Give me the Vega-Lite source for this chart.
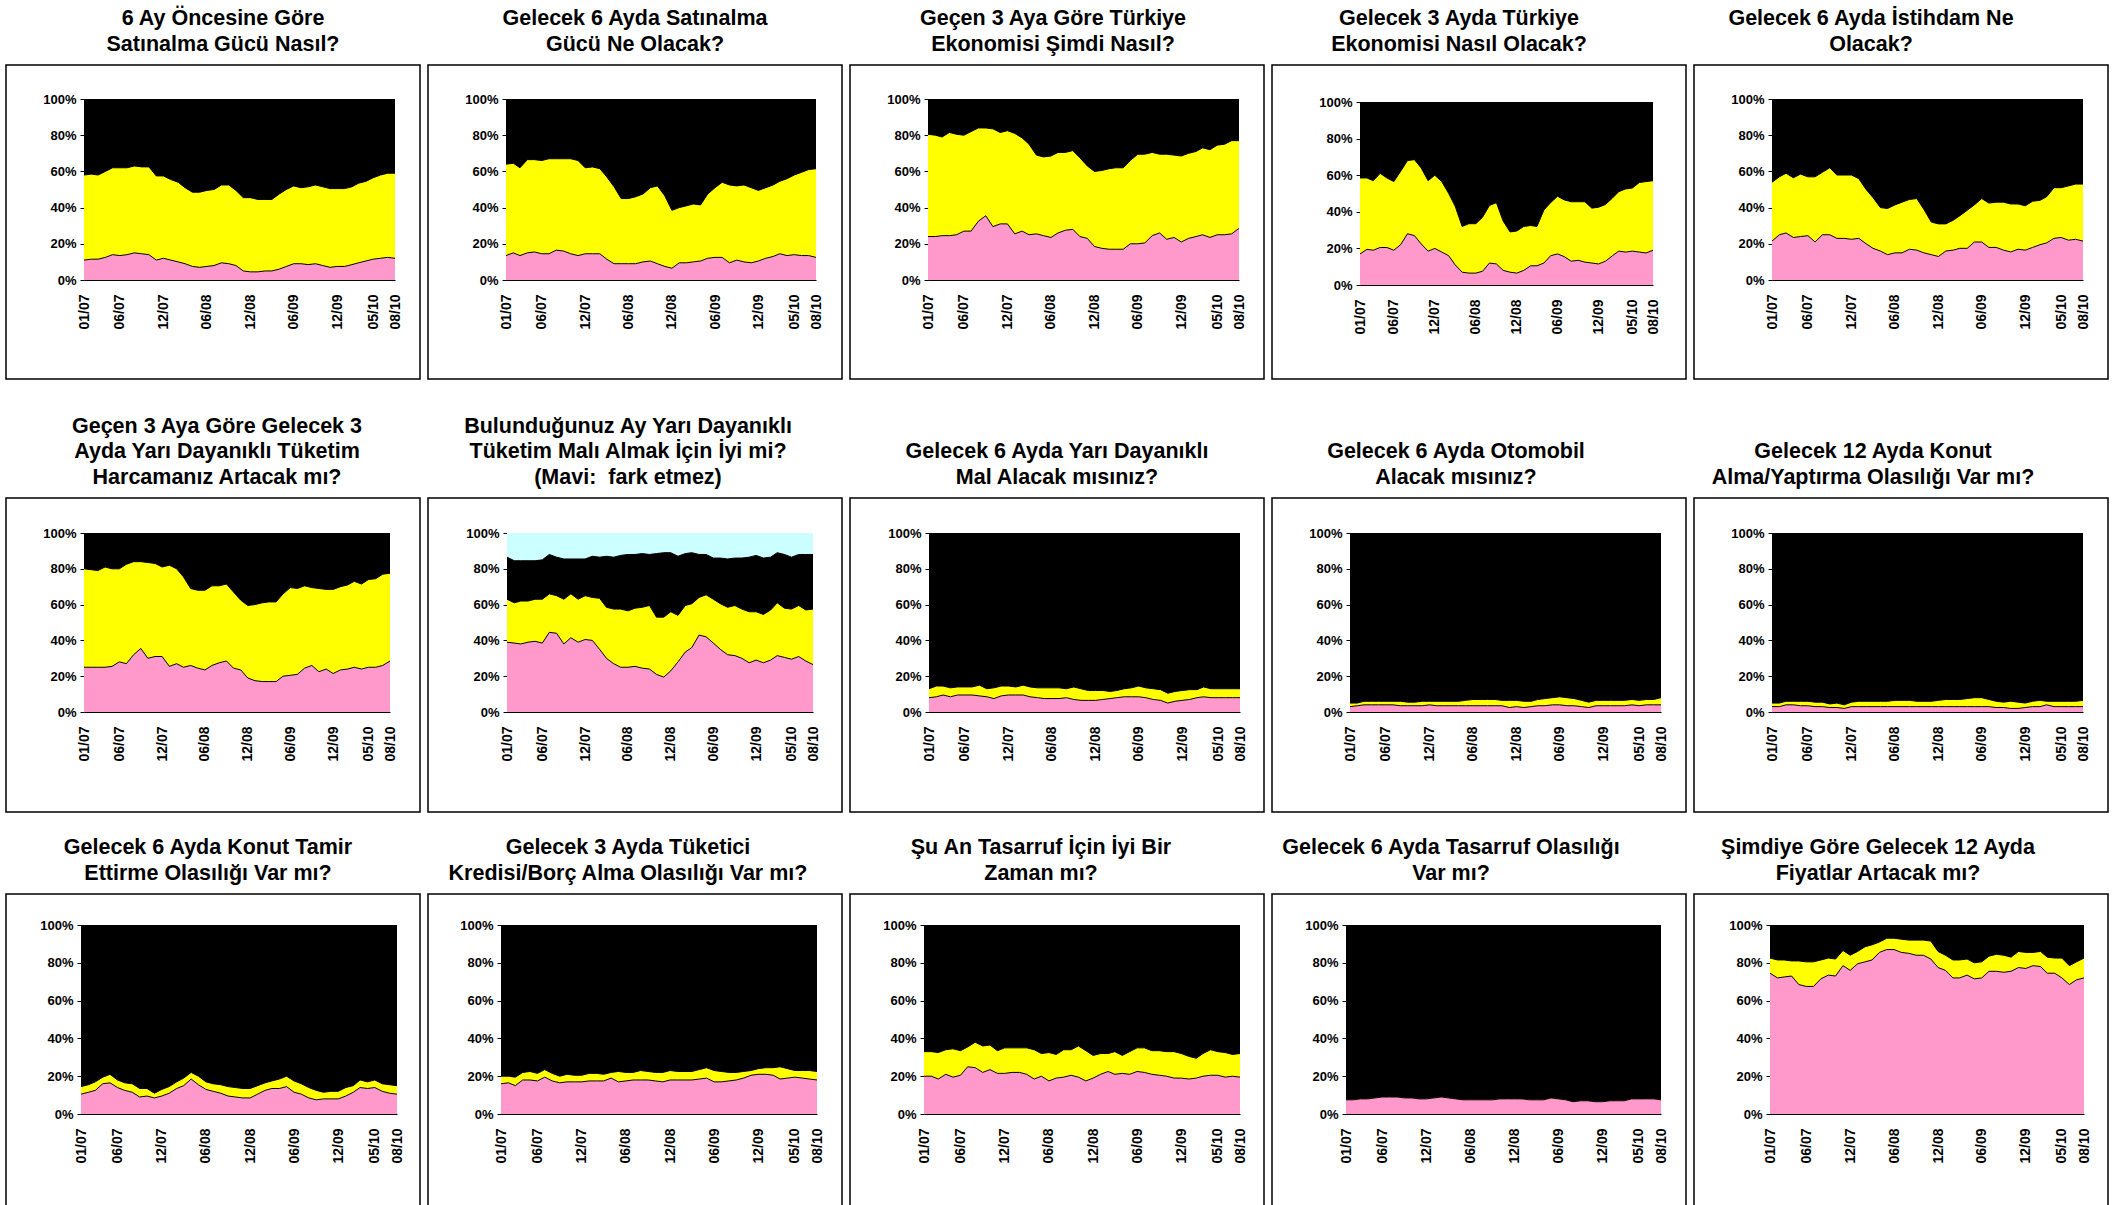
{
"$schema":"https://vega.github.io/schema/vega-lite/v6.json",
"padding":{"left":5,"top":7,"right":0,"bottom":0},
"background":"#ffffff",
"config":{
 "view":{"stroke":"#000000","strokeWidth":1.5},
 "title":{"font":"Liberation Sans","fontSize":21.5,"fontWeight":"bold","color":"#000000","lineHeight":25.5,"offset":10,"anchor":"middle"},
 "axis":{"labelFont":"Liberation Sans","labelFontWeight":"bold","labelColor":"#000000","domainColor":"#000000","domainWidth":1,"tickColor":"#000000","grid":false},
 "axisY":{"labelFontSize":13,"tickSize":4,"labelPadding":4},
 "axisX":{"labelFontSize":14,"labelAngle":-90,"ticks":false,"labelPadding":14,"labelOverlap":false},
 "area":{"opacity":1,"fillOpacity":1}
},
"datasets":{
"d1":[{"t":"2007-01","p":11,"s":58},{"t":"2007-02","p":11.5,"s":58.5},{"t":"2007-03","p":11.5,"s":58},{"t":"2007-04","p":12.5,"s":60},{"t":"2007-05","p":14,"s":62},{"t":"2007-06","p":13.5,"s":62},{"t":"2007-07","p":14,"s":62},{"t":"2007-08","p":15,"s":63},{"t":"2007-09","p":14.5,"s":62.5},{"t":"2007-10","p":14,"s":62.5},{"t":"2007-11","p":11,"s":57.5},{"t":"2007-12","p":12,"s":57.5},{"t":"2008-01","p":11,"s":55.5},{"t":"2008-02","p":10,"s":54},{"t":"2008-03","p":9,"s":51},{"t":"2008-04","p":7.5,"s":48.5},{"t":"2008-05","p":7,"s":48.5},{"t":"2008-06","p":7.5,"s":49.5},{"t":"2008-07","p":8,"s":50},{"t":"2008-08","p":9.5,"s":52.5},{"t":"2008-09","p":9,"s":52.5},{"t":"2008-10","p":8,"s":49.5},{"t":"2008-11","p":5,"s":45.5},{"t":"2008-12","p":4.5,"s":45.5},{"t":"2009-01","p":4.5,"s":44.5},{"t":"2009-02","p":5,"s":44.5},{"t":"2009-03","p":5,"s":44.5},{"t":"2009-04","p":6,"s":47.5},{"t":"2009-05","p":7.5,"s":50},{"t":"2009-06","p":9,"s":52},{"t":"2009-07","p":9,"s":51},{"t":"2009-08","p":8.5,"s":51.5},{"t":"2009-09","p":9,"s":52.5},{"t":"2009-10","p":8,"s":51.5},{"t":"2009-11","p":7,"s":50.5},{"t":"2009-12","p":7.5,"s":50.5},{"t":"2010-01","p":7.5,"s":50.5},{"t":"2010-02","p":8.5,"s":51.5},{"t":"2010-03","p":9.5,"s":53.5},{"t":"2010-04","p":10.5,"s":54.5},{"t":"2010-05","p":11.5,"s":56.5},{"t":"2010-06","p":12,"s":58},{"t":"2010-07","p":12.5,"s":59},{"t":"2010-08","p":12,"s":59}],
"d2":[{"t":"2007-01","p":13.5,"s":64},{"t":"2007-02","p":15,"s":64.5},{"t":"2007-03","p":13.5,"s":62},{"t":"2007-04","p":15,"s":66.5},{"t":"2007-05","p":15.5,"s":66.5},{"t":"2007-06","p":14.5,"s":66},{"t":"2007-07","p":14.5,"s":67},{"t":"2007-08","p":16.5,"s":67},{"t":"2007-09","p":16,"s":67},{"t":"2007-10","p":14.5,"s":67},{"t":"2007-11","p":13.5,"s":66},{"t":"2007-12","p":14.5,"s":62},{"t":"2008-01","p":14.5,"s":62.5},{"t":"2008-02","p":14.5,"s":61.5},{"t":"2008-03","p":11.5,"s":57},{"t":"2008-04","p":9,"s":51.5},{"t":"2008-05","p":9,"s":45},{"t":"2008-06","p":9,"s":45},{"t":"2008-07","p":9,"s":46},{"t":"2008-08","p":10,"s":47.5},{"t":"2008-09","p":10.5,"s":51},{"t":"2008-10","p":9,"s":52},{"t":"2008-11","p":7.5,"s":46.5},{"t":"2008-12","p":6.5,"s":38.5},{"t":"2009-01","p":9.5,"s":40},{"t":"2009-02","p":9.5,"s":41},{"t":"2009-03","p":10,"s":42},{"t":"2009-04","p":10.5,"s":41.5},{"t":"2009-05","p":12,"s":47.5},{"t":"2009-06","p":12.5,"s":51},{"t":"2009-07","p":12.5,"s":54},{"t":"2009-08","p":9.5,"s":52.5},{"t":"2009-09","p":11,"s":52},{"t":"2009-10","p":10,"s":52.5},{"t":"2009-11","p":9.5,"s":51},{"t":"2009-12","p":10.5,"s":49.5},{"t":"2010-01","p":12,"s":51},{"t":"2010-02","p":13,"s":52.5},{"t":"2010-03","p":14.5,"s":54.5},{"t":"2010-04","p":13.5,"s":56},{"t":"2010-05","p":14,"s":58},{"t":"2010-06","p":13.5,"s":59.5},{"t":"2010-07","p":13.5,"s":61},{"t":"2010-08","p":12.5,"s":61.5}],
"d3":[{"t":"2007-01","p":24,"s":80.5},{"t":"2007-02","p":24,"s":80},{"t":"2007-03","p":24.5,"s":79},{"t":"2007-04","p":24.5,"s":81.5},{"t":"2007-05","p":25,"s":80.5},{"t":"2007-06","p":27,"s":80},{"t":"2007-07","p":27,"s":82},{"t":"2007-08","p":32.5,"s":84},{"t":"2007-09","p":35.5,"s":84},{"t":"2007-10","p":29.5,"s":83.5},{"t":"2007-11","p":31,"s":81.5},{"t":"2007-12","p":31,"s":82.5},{"t":"2008-01","p":25.5,"s":81},{"t":"2008-02","p":27,"s":78.5},{"t":"2008-03","p":25,"s":75},{"t":"2008-04","p":25.5,"s":69},{"t":"2008-05","p":24.5,"s":68},{"t":"2008-06","p":23.5,"s":68.5},{"t":"2008-07","p":26,"s":70.5},{"t":"2008-08","p":27.5,"s":70.5},{"t":"2008-09","p":28,"s":71.5},{"t":"2008-10","p":24,"s":67.5},{"t":"2008-11","p":23,"s":63},{"t":"2008-12","p":18.5,"s":60},{"t":"2009-01","p":17.5,"s":60.5},{"t":"2009-02","p":17,"s":61.5},{"t":"2009-03","p":17,"s":62},{"t":"2009-04","p":17,"s":62},{"t":"2009-05","p":20,"s":66},{"t":"2009-06","p":20,"s":69.5},{"t":"2009-07","p":20.5,"s":69.5},{"t":"2009-08","p":24.5,"s":70.5},{"t":"2009-09","p":26,"s":69.5},{"t":"2009-10","p":22.5,"s":69.5},{"t":"2009-11","p":23.5,"s":69},{"t":"2009-12","p":21,"s":68.5},{"t":"2010-01","p":23,"s":70},{"t":"2010-02","p":24,"s":71},{"t":"2010-03","p":25,"s":73},{"t":"2010-04","p":23.5,"s":72},{"t":"2010-05","p":25,"s":74.5},{"t":"2010-06","p":25,"s":75},{"t":"2010-07","p":25.5,"s":77},{"t":"2010-08","p":28.5,"s":77}],
"d4":[{"t":"2007-01","p":17,"s":58.5},{"t":"2007-02","p":19.5,"s":58.5},{"t":"2007-03","p":19,"s":57},{"t":"2007-04","p":20.5,"s":61},{"t":"2007-05","p":20.5,"s":58.5},{"t":"2007-06","p":19,"s":56.5},{"t":"2007-07","p":22,"s":62},{"t":"2007-08","p":28,"s":68},{"t":"2007-09","p":27,"s":68.5},{"t":"2007-10","p":22.5,"s":64},{"t":"2007-11","p":18.5,"s":57},{"t":"2007-12","p":20,"s":60},{"t":"2008-01","p":18,"s":56.5},{"t":"2008-02","p":16,"s":50},{"t":"2008-03","p":11,"s":43},{"t":"2008-04","p":7,"s":32},{"t":"2008-05","p":6.5,"s":33.5},{"t":"2008-06","p":6.5,"s":33.5},{"t":"2008-07","p":7.5,"s":37},{"t":"2008-08","p":12,"s":43.5},{"t":"2008-09","p":11.5,"s":45},{"t":"2008-10","p":8,"s":35},{"t":"2008-11","p":7,"s":29},{"t":"2008-12","p":6.5,"s":29.5},{"t":"2009-01","p":8,"s":32},{"t":"2009-02","p":10.5,"s":32.5},{"t":"2009-03","p":10.5,"s":32},{"t":"2009-04","p":12,"s":41},{"t":"2009-05","p":16,"s":45},{"t":"2009-06","p":17,"s":48.5},{"t":"2009-07","p":15.5,"s":46.5},{"t":"2009-08","p":13,"s":45.5},{"t":"2009-09","p":13.5,"s":45.5},{"t":"2009-10","p":12.5,"s":45.5},{"t":"2009-11","p":12,"s":42},{"t":"2009-12","p":11.5,"s":42.5},{"t":"2010-01","p":13,"s":44},{"t":"2010-02","p":16,"s":47.5},{"t":"2010-03","p":18.5,"s":51},{"t":"2010-04","p":18,"s":52.5},{"t":"2010-05","p":18.5,"s":53},{"t":"2010-06","p":18,"s":56},{"t":"2010-07","p":17.5,"s":56.5},{"t":"2010-08","p":19,"s":57}],
"d5":[{"t":"2007-01","p":21.5,"s":54},{"t":"2007-02","p":25,"s":57},{"t":"2007-03","p":26,"s":59},{"t":"2007-04","p":23.5,"s":56.5},{"t":"2007-05","p":24,"s":58.5},{"t":"2007-06","p":24.5,"s":57},{"t":"2007-07","p":21,"s":57},{"t":"2007-08","p":25,"s":59.5},{"t":"2007-09","p":25,"s":62},{"t":"2007-10","p":23,"s":58},{"t":"2007-11","p":23,"s":58},{"t":"2007-12","p":22.5,"s":58},{"t":"2008-01","p":23,"s":56},{"t":"2008-02","p":20,"s":50},{"t":"2008-03","p":17.5,"s":45.5},{"t":"2008-04","p":16,"s":40},{"t":"2008-05","p":14,"s":39.5},{"t":"2008-06","p":15,"s":41.5},{"t":"2008-07","p":15,"s":43},{"t":"2008-08","p":17,"s":44.5},{"t":"2008-09","p":16.5,"s":45},{"t":"2008-10","p":15,"s":39},{"t":"2008-11","p":14,"s":32},{"t":"2008-12","p":13,"s":31},{"t":"2009-01","p":16,"s":31},{"t":"2009-02","p":16.5,"s":33},{"t":"2009-03","p":17.5,"s":35.5},{"t":"2009-04","p":17.5,"s":38.5},{"t":"2009-05","p":21,"s":41.5},{"t":"2009-06","p":21,"s":45},{"t":"2009-07","p":18,"s":42.5},{"t":"2009-08","p":18,"s":43},{"t":"2009-09","p":16.5,"s":43},{"t":"2009-10","p":15.5,"s":42},{"t":"2009-11","p":17,"s":42},{"t":"2009-12","p":16.5,"s":41},{"t":"2010-01","p":18,"s":43.5},{"t":"2010-02","p":19.5,"s":44},{"t":"2010-03","p":20.5,"s":46},{"t":"2010-04","p":23,"s":51},{"t":"2010-05","p":23.5,"s":51},{"t":"2010-06","p":22,"s":52},{"t":"2010-07","p":22.5,"s":53},{"t":"2010-08","p":21.5,"s":53}],
"d6":[{"t":"2007-01","p":25,"s":80},{"t":"2007-02","p":25,"s":79.5},{"t":"2007-03","p":25,"s":79},{"t":"2007-04","p":25,"s":81},{"t":"2007-05","p":25.5,"s":80},{"t":"2007-06","p":28,"s":80},{"t":"2007-07","p":27,"s":82.5},{"t":"2007-08","p":32,"s":84},{"t":"2007-09","p":35.5,"s":84},{"t":"2007-10","p":30,"s":83.5},{"t":"2007-11","p":31,"s":83},{"t":"2007-12","p":31,"s":81},{"t":"2008-01","p":25.5,"s":82},{"t":"2008-02","p":27,"s":80},{"t":"2008-03","p":25,"s":75.5},{"t":"2008-04","p":26,"s":69},{"t":"2008-05","p":24.5,"s":68},{"t":"2008-06","p":23.5,"s":68},{"t":"2008-07","p":26,"s":70.5},{"t":"2008-08","p":27.5,"s":70.5},{"t":"2008-09","p":28.5,"s":71.5},{"t":"2008-10","p":24.5,"s":67},{"t":"2008-11","p":23.5,"s":62.5},{"t":"2008-12","p":19,"s":59.5},{"t":"2009-01","p":17.5,"s":60},{"t":"2009-02","p":17,"s":61},{"t":"2009-03","p":17,"s":61.5},{"t":"2009-04","p":17,"s":61.5},{"t":"2009-05","p":20,"s":66},{"t":"2009-06","p":20.5,"s":69.5},{"t":"2009-07","p":21,"s":69},{"t":"2009-08","p":24.5,"s":70.5},{"t":"2009-09","p":26,"s":69.5},{"t":"2009-10","p":22.5,"s":69},{"t":"2009-11","p":24,"s":68.5},{"t":"2009-12","p":21.5,"s":68.5},{"t":"2010-01","p":23.5,"s":70},{"t":"2010-02","p":24,"s":71},{"t":"2010-03","p":25,"s":73},{"t":"2010-04","p":24,"s":71.5},{"t":"2010-05","p":25,"s":74},{"t":"2010-06","p":25,"s":74.5},{"t":"2010-07","p":26,"s":77},{"t":"2010-08","p":28.5,"s":77.5}],
"d7":[{"t":"2007-01","p":39,"s":63,"k":86.5},{"t":"2007-02","p":38.5,"s":61,"k":84.5},{"t":"2007-03","p":38,"s":62,"k":84.5},{"t":"2007-04","p":39,"s":62,"k":84.5},{"t":"2007-05","p":39.5,"s":63,"k":84.5},{"t":"2007-06","p":38.5,"s":63,"k":85},{"t":"2007-07","p":44.5,"s":66,"k":88},{"t":"2007-08","p":44,"s":65,"k":86.5},{"t":"2007-09","p":38,"s":63,"k":85.5},{"t":"2007-10","p":41.5,"s":66,"k":85.5},{"t":"2007-11","p":39,"s":63,"k":85.5},{"t":"2007-12","p":40.5,"s":65,"k":85.5},{"t":"2008-01","p":40,"s":64,"k":87},{"t":"2008-02","p":35,"s":63.5,"k":86.5},{"t":"2008-03","p":30,"s":58.5,"k":87},{"t":"2008-04","p":27,"s":57.5,"k":86.5},{"t":"2008-05","p":25,"s":57.5,"k":87.5},{"t":"2008-06","p":25,"s":56.5,"k":88},{"t":"2008-07","p":25.5,"s":58,"k":88},{"t":"2008-08","p":24.5,"s":58.5,"k":88.5},{"t":"2008-09","p":24,"s":59.5,"k":88},{"t":"2008-10","p":21,"s":53,"k":88.5},{"t":"2008-11","p":19.5,"s":53,"k":89},{"t":"2008-12","p":23,"s":56,"k":89},{"t":"2009-01","p":28,"s":54,"k":87},{"t":"2009-02","p":33.5,"s":59.5,"k":88.5},{"t":"2009-03","p":36,"s":60.5,"k":89},{"t":"2009-04","p":43,"s":64,"k":88},{"t":"2009-05","p":42,"s":65.5,"k":88},{"t":"2009-06","p":38.5,"s":63,"k":86},{"t":"2009-07","p":35,"s":60.5,"k":86},{"t":"2009-08","p":32,"s":58.5,"k":85.5},{"t":"2009-09","p":31.5,"s":59.5,"k":86},{"t":"2009-10","p":30,"s":57.5,"k":86},{"t":"2009-11","p":27.5,"s":56,"k":86.5},{"t":"2009-12","p":29,"s":56,"k":87.5},{"t":"2010-01","p":27.5,"s":54.5,"k":86},{"t":"2010-02","p":29,"s":57,"k":86.5},{"t":"2010-03","p":31.5,"s":61,"k":89},{"t":"2010-04","p":30.5,"s":58,"k":88},{"t":"2010-05","p":29.5,"s":57.5,"k":86.5},{"t":"2010-06","p":31,"s":59.5,"k":88},{"t":"2010-07","p":28.5,"s":57,"k":88},{"t":"2010-08","p":26.5,"s":57.5,"k":88}],
"d8":[{"t":"2007-01","p":8,"s":13},{"t":"2007-02","p":8.5,"s":14.5},{"t":"2007-03","p":9.5,"s":14.5},{"t":"2007-04","p":8.5,"s":13.5},{"t":"2007-05","p":9.5,"s":14},{"t":"2007-06","p":9.5,"s":14},{"t":"2007-07","p":9.5,"s":14},{"t":"2007-08","p":9,"s":15},{"t":"2007-09","p":8.5,"s":13},{"t":"2007-10","p":7.5,"s":13.5},{"t":"2007-11","p":9,"s":14.5},{"t":"2007-12","p":9.5,"s":14.5},{"t":"2008-01","p":9.5,"s":14},{"t":"2008-02","p":9.5,"s":15},{"t":"2008-03","p":8.5,"s":14},{"t":"2008-04","p":8,"s":13.5},{"t":"2008-05","p":7.5,"s":13.5},{"t":"2008-06","p":7.5,"s":13.5},{"t":"2008-07","p":7.5,"s":13.5},{"t":"2008-08","p":8,"s":13},{"t":"2008-09","p":7,"s":14},{"t":"2008-10","p":6.5,"s":13},{"t":"2008-11","p":6.5,"s":12},{"t":"2008-12","p":6.5,"s":12},{"t":"2009-01","p":7,"s":12},{"t":"2009-02","p":7.5,"s":11.5},{"t":"2009-03","p":8,"s":12},{"t":"2009-04","p":8.5,"s":13},{"t":"2009-05","p":8.5,"s":13.5},{"t":"2009-06","p":8.5,"s":14.5},{"t":"2009-07","p":8,"s":13.5},{"t":"2009-08","p":7,"s":13},{"t":"2009-09","p":6.5,"s":12.5},{"t":"2009-10","p":5,"s":10.5},{"t":"2009-11","p":6,"s":11.5},{"t":"2009-12","p":6.5,"s":12},{"t":"2010-01","p":7,"s":12.5},{"t":"2010-02","p":8,"s":12.5},{"t":"2010-03","p":8.5,"s":14},{"t":"2010-04","p":8,"s":13},{"t":"2010-05","p":8,"s":13},{"t":"2010-06","p":8,"s":13},{"t":"2010-07","p":8,"s":13},{"t":"2010-08","p":8,"s":13}],
"d9":[{"t":"2007-01","p":3,"s":5},{"t":"2007-02","p":3.5,"s":5},{"t":"2007-03","p":4,"s":6},{"t":"2007-04","p":4,"s":6},{"t":"2007-05","p":4,"s":6},{"t":"2007-06","p":4,"s":6},{"t":"2007-07","p":4,"s":6},{"t":"2007-08","p":3.5,"s":6},{"t":"2007-09","p":3.5,"s":5.5},{"t":"2007-10","p":3.5,"s":5.5},{"t":"2007-11","p":3.5,"s":6},{"t":"2007-12","p":4,"s":6},{"t":"2008-01","p":3.5,"s":6},{"t":"2008-02","p":3.5,"s":6},{"t":"2008-03","p":3.5,"s":6},{"t":"2008-04","p":3.5,"s":6},{"t":"2008-05","p":3.5,"s":6.5},{"t":"2008-06","p":3.5,"s":7},{"t":"2008-07","p":3.5,"s":7},{"t":"2008-08","p":3.5,"s":7},{"t":"2008-09","p":3.5,"s":7},{"t":"2008-10","p":3.5,"s":6.5},{"t":"2008-11","p":2.5,"s":6.5},{"t":"2008-12","p":3,"s":6.5},{"t":"2009-01","p":2.5,"s":6},{"t":"2009-02","p":3,"s":6},{"t":"2009-03","p":3.5,"s":7},{"t":"2009-04","p":3.5,"s":7.5},{"t":"2009-05","p":4,"s":8},{"t":"2009-06","p":4,"s":8.5},{"t":"2009-07","p":3.5,"s":8},{"t":"2009-08","p":3.5,"s":7.5},{"t":"2009-09","p":3,"s":6.5},{"t":"2009-10","p":2.5,"s":5.5},{"t":"2009-11","p":3.5,"s":6.5},{"t":"2009-12","p":3.5,"s":6.5},{"t":"2010-01","p":3.5,"s":6.5},{"t":"2010-02","p":3.5,"s":6.5},{"t":"2010-03","p":3.5,"s":6.5},{"t":"2010-04","p":4,"s":7},{"t":"2010-05","p":3.5,"s":6.5},{"t":"2010-06","p":4,"s":7},{"t":"2010-07","p":4,"s":7},{"t":"2010-08","p":4,"s":8}],
"d10":[{"t":"2007-01","p":3,"s":5},{"t":"2007-02","p":3,"s":5},{"t":"2007-03","p":4,"s":6},{"t":"2007-04","p":4,"s":6},{"t":"2007-05","p":3.5,"s":6},{"t":"2007-06","p":3.5,"s":6},{"t":"2007-07","p":3,"s":5.5},{"t":"2007-08","p":3,"s":5.5},{"t":"2007-09","p":2.5,"s":4.5},{"t":"2007-10","p":2.5,"s":5},{"t":"2007-11","p":2,"s":4},{"t":"2007-12","p":3,"s":5.5},{"t":"2008-01","p":3,"s":6},{"t":"2008-02","p":3,"s":6},{"t":"2008-03","p":3,"s":6},{"t":"2008-04","p":3,"s":6},{"t":"2008-05","p":3,"s":6},{"t":"2008-06","p":3,"s":6.5},{"t":"2008-07","p":3,"s":6.5},{"t":"2008-08","p":3,"s":6.5},{"t":"2008-09","p":3,"s":6},{"t":"2008-10","p":3,"s":6},{"t":"2008-11","p":3,"s":6},{"t":"2008-12","p":3,"s":6.5},{"t":"2009-01","p":3,"s":7},{"t":"2009-02","p":3,"s":7},{"t":"2009-03","p":3,"s":7},{"t":"2009-04","p":3,"s":7.5},{"t":"2009-05","p":3,"s":8},{"t":"2009-06","p":3,"s":8},{"t":"2009-07","p":3,"s":7},{"t":"2009-08","p":2.5,"s":6},{"t":"2009-09","p":2.5,"s":5.5},{"t":"2009-10","p":2,"s":6},{"t":"2009-11","p":2,"s":5.5},{"t":"2009-12","p":2.5,"s":5},{"t":"2010-01","p":3,"s":6},{"t":"2010-02","p":3,"s":6.5},{"t":"2010-03","p":4,"s":6},{"t":"2010-04","p":3,"s":6},{"t":"2010-05","p":3,"s":6},{"t":"2010-06","p":3,"s":6},{"t":"2010-07","p":3,"s":6},{"t":"2010-08","p":3,"s":6.5}],
"d11":[{"t":"2007-01","p":10.5,"s":14.5},{"t":"2007-02","p":11.5,"s":15.5},{"t":"2007-03","p":12.5,"s":17},{"t":"2007-04","p":16,"s":19.5},{"t":"2007-05","p":16.5,"s":21},{"t":"2007-06","p":14,"s":18},{"t":"2007-07","p":12.5,"s":16.5},{"t":"2007-08","p":11.5,"s":16},{"t":"2007-09","p":9,"s":13.5},{"t":"2007-10","p":9.5,"s":13.5},{"t":"2007-11","p":8.5,"s":11},{"t":"2007-12","p":9.5,"s":13},{"t":"2008-01","p":11,"s":14.5},{"t":"2008-02","p":13.5,"s":17},{"t":"2008-03","p":15,"s":19},{"t":"2008-04","p":18.5,"s":22},{"t":"2008-05","p":15.5,"s":20},{"t":"2008-06","p":13,"s":17},{"t":"2008-07","p":12,"s":16},{"t":"2008-08","p":11,"s":15.5},{"t":"2008-09","p":9.5,"s":14.5},{"t":"2008-10","p":9,"s":14},{"t":"2008-11","p":8.5,"s":13.5},{"t":"2008-12","p":8.5,"s":13.5},{"t":"2009-01","p":10.5,"s":15},{"t":"2009-02","p":12.5,"s":16.5},{"t":"2009-03","p":13.5,"s":17.5},{"t":"2009-04","p":13.5,"s":18.5},{"t":"2009-05","p":14.5,"s":20},{"t":"2009-06","p":11.5,"s":17.5},{"t":"2009-07","p":10.5,"s":16},{"t":"2009-08","p":8.5,"s":14},{"t":"2009-09","p":7.5,"s":12.5},{"t":"2009-10","p":8,"s":11.5},{"t":"2009-11","p":8,"s":12},{"t":"2009-12","p":8,"s":12},{"t":"2010-01","p":9.5,"s":14},{"t":"2010-02","p":11.5,"s":15},{"t":"2010-03","p":14,"s":18},{"t":"2010-04","p":13.5,"s":17},{"t":"2010-05","p":14,"s":18},{"t":"2010-06","p":12,"s":16},{"t":"2010-07","p":11,"s":15.5},{"t":"2010-08","p":10.5,"s":15}],
"d12":[{"t":"2007-01","p":16,"s":20},{"t":"2007-02","p":16.5,"s":20},{"t":"2007-03","p":15,"s":19.5},{"t":"2007-04","p":18,"s":22},{"t":"2007-05","p":18,"s":22.5},{"t":"2007-06","p":17.5,"s":21.5},{"t":"2007-07","p":19.5,"s":23.5},{"t":"2007-08","p":17.5,"s":21.5},{"t":"2007-09","p":16.5,"s":20},{"t":"2007-10","p":17,"s":21},{"t":"2007-11","p":17,"s":20.5},{"t":"2007-12","p":17,"s":20.5},{"t":"2008-01","p":17.5,"s":21.5},{"t":"2008-02","p":17.5,"s":21.5},{"t":"2008-03","p":17.5,"s":21},{"t":"2008-04","p":19,"s":22},{"t":"2008-05","p":17,"s":22.5},{"t":"2008-06","p":17.5,"s":22},{"t":"2008-07","p":18,"s":22},{"t":"2008-08","p":18,"s":23},{"t":"2008-09","p":18,"s":22.5},{"t":"2008-10","p":17.5,"s":22},{"t":"2008-11","p":17,"s":22},{"t":"2008-12","p":18,"s":23},{"t":"2009-01","p":18,"s":22.5},{"t":"2009-02","p":18,"s":22.5},{"t":"2009-03","p":18,"s":22.5},{"t":"2009-04","p":18.5,"s":23.5},{"t":"2009-05","p":19,"s":24.5},{"t":"2009-06","p":17,"s":23},{"t":"2009-07","p":17,"s":22.5},{"t":"2009-08","p":17.5,"s":22},{"t":"2009-09","p":18,"s":22},{"t":"2009-10","p":19,"s":22.5},{"t":"2009-11","p":20.5,"s":23},{"t":"2009-12","p":21,"s":24},{"t":"2010-01","p":21,"s":24.5},{"t":"2010-02","p":20.5,"s":24.5},{"t":"2010-03","p":18.5,"s":25},{"t":"2010-04","p":19,"s":24},{"t":"2010-05","p":19.5,"s":23},{"t":"2010-06","p":19,"s":23},{"t":"2010-07","p":18.5,"s":23},{"t":"2010-08","p":18,"s":22.5}],
"d13":[{"t":"2007-01","p":20,"s":33},{"t":"2007-02","p":20,"s":33},{"t":"2007-03","p":18.5,"s":32.5},{"t":"2007-04","p":21,"s":34},{"t":"2007-05","p":19.5,"s":34.5},{"t":"2007-06","p":20.5,"s":33.5},{"t":"2007-07","p":25,"s":35.5},{"t":"2007-08","p":24.5,"s":38},{"t":"2007-09","p":22,"s":36},{"t":"2007-10","p":23.5,"s":36.5},{"t":"2007-11","p":21.5,"s":33.5},{"t":"2007-12","p":21.5,"s":35},{"t":"2008-01","p":22,"s":35},{"t":"2008-02","p":22,"s":35},{"t":"2008-03","p":21,"s":35},{"t":"2008-04","p":18.5,"s":34},{"t":"2008-05","p":20,"s":32},{"t":"2008-06","p":17.5,"s":32.5},{"t":"2008-07","p":19,"s":31.5},{"t":"2008-08","p":19.5,"s":34},{"t":"2008-09","p":20.5,"s":34},{"t":"2008-10","p":19.5,"s":36},{"t":"2008-11","p":17.5,"s":33.5},{"t":"2008-12","p":19,"s":31},{"t":"2009-01","p":21,"s":32},{"t":"2009-02","p":22.5,"s":32},{"t":"2009-03","p":21,"s":33},{"t":"2009-04","p":21.5,"s":31},{"t":"2009-05","p":21,"s":33},{"t":"2009-06","p":22.5,"s":35},{"t":"2009-07","p":22,"s":35},{"t":"2009-08","p":21,"s":33.5},{"t":"2009-09","p":20.5,"s":33.5},{"t":"2009-10","p":20,"s":33},{"t":"2009-11","p":19,"s":33},{"t":"2009-12","p":19,"s":32},{"t":"2010-01","p":18.5,"s":30.5},{"t":"2010-02","p":19,"s":29.5},{"t":"2010-03","p":20,"s":32},{"t":"2010-04","p":20.5,"s":34},{"t":"2010-05","p":20.5,"s":33},{"t":"2010-06","p":19.5,"s":32.5},{"t":"2010-07","p":20,"s":31.5},{"t":"2010-08","p":19.5,"s":32}],
"d14":[{"t":"2007-01","p":7.5,"s":7.8},{"t":"2007-02","p":7.5,"s":7.8},{"t":"2007-03","p":8,"s":8.3},{"t":"2007-04","p":8,"s":8.3},{"t":"2007-05","p":8.5,"s":8.8},{"t":"2007-06","p":9,"s":9.3},{"t":"2007-07","p":9,"s":9.3},{"t":"2007-08","p":9,"s":9.3},{"t":"2007-09","p":8.5,"s":8.8},{"t":"2007-10","p":8.5,"s":8.8},{"t":"2007-11","p":8,"s":8.3},{"t":"2007-12","p":8,"s":8.3},{"t":"2008-01","p":8.5,"s":8.8},{"t":"2008-02","p":9,"s":9.3},{"t":"2008-03","p":8.5,"s":8.8},{"t":"2008-04","p":8,"s":8.3},{"t":"2008-05","p":7.5,"s":7.8},{"t":"2008-06","p":7.5,"s":7.8},{"t":"2008-07","p":7.5,"s":7.8},{"t":"2008-08","p":7.5,"s":7.8},{"t":"2008-09","p":7.5,"s":7.8},{"t":"2008-10","p":8,"s":8.3},{"t":"2008-11","p":8,"s":8.3},{"t":"2008-12","p":8,"s":8.3},{"t":"2009-01","p":8,"s":8.3},{"t":"2009-02","p":7.5,"s":7.8},{"t":"2009-03","p":7.5,"s":7.8},{"t":"2009-04","p":7.5,"s":7.8},{"t":"2009-05","p":8.5,"s":8.8},{"t":"2009-06","p":8,"s":8.3},{"t":"2009-07","p":7.5,"s":7.8},{"t":"2009-08","p":6.5,"s":6.8},{"t":"2009-09","p":7,"s":7.3},{"t":"2009-10","p":7,"s":7.3},{"t":"2009-11","p":6.5,"s":6.8},{"t":"2009-12","p":6.5,"s":6.8},{"t":"2010-01","p":7,"s":7.3},{"t":"2010-02","p":7,"s":7.3},{"t":"2010-03","p":7,"s":7.3},{"t":"2010-04","p":8,"s":8.3},{"t":"2010-05","p":8,"s":8.3},{"t":"2010-06","p":8,"s":8.3},{"t":"2010-07","p":8,"s":8.3},{"t":"2010-08","p":7.5,"s":7.8}],
"d15":[{"t":"2007-01","p":74.5,"s":82.5},{"t":"2007-02","p":72,"s":81.5},{"t":"2007-03","p":72.5,"s":81.5},{"t":"2007-04","p":73,"s":81},{"t":"2007-05","p":68.5,"s":81},{"t":"2007-06","p":67.5,"s":80.5},{"t":"2007-07","p":67.5,"s":80.5},{"t":"2007-08","p":71.5,"s":81.5},{"t":"2007-09","p":73.5,"s":82.5},{"t":"2007-10","p":73,"s":82},{"t":"2007-11","p":78.5,"s":86.5},{"t":"2007-12","p":76,"s":84},{"t":"2008-01","p":79.5,"s":86},{"t":"2008-02","p":80.5,"s":88.5},{"t":"2008-03","p":81.5,"s":89.5},{"t":"2008-04","p":85.5,"s":91},{"t":"2008-05","p":87,"s":93},{"t":"2008-06","p":87,"s":93},{"t":"2008-07","p":85.5,"s":92.5},{"t":"2008-08","p":85,"s":92},{"t":"2008-09","p":84,"s":92},{"t":"2008-10","p":84,"s":92},{"t":"2008-11","p":82,"s":91.5},{"t":"2008-12","p":77.5,"s":86},{"t":"2009-01","p":76,"s":84},{"t":"2009-02","p":72,"s":81.5},{"t":"2009-03","p":72,"s":81.5},{"t":"2009-04","p":73.5,"s":82},{"t":"2009-05","p":71.5,"s":80},{"t":"2009-06","p":72,"s":80.5},{"t":"2009-07","p":75.5,"s":83.5},{"t":"2009-08","p":75.5,"s":84.5},{"t":"2009-09","p":75,"s":84},{"t":"2009-10","p":75.5,"s":83},{"t":"2009-11","p":77.5,"s":86},{"t":"2009-12","p":77,"s":85.5},{"t":"2010-01","p":78.5,"s":85.5},{"t":"2010-02","p":78,"s":86},{"t":"2010-03","p":74.5,"s":83},{"t":"2010-04","p":74.5,"s":82.5},{"t":"2010-05","p":72,"s":82.5},{"t":"2010-06","p":68.5,"s":78.5},{"t":"2010-07","p":71,"s":80.5},{"t":"2010-08","p":72,"s":82.5}]
},
"vconcat":[
{"hconcat":[
{"title":{"text":["6 Ay Öncesine Göre","Satınalma Gücü Nasıl?"],"dx":10},"width":414,"height":314,"data":{"name":"d1"},
 "encoding":{"x":{"field":"t","type":"temporal","title":null,"scale":{"type":"utc","range":[78,389]},"axis":{"offset":-99,"format":"%m/%y","values":[{"year":2007,"month":1,"utc":true},{"year":2007,"month":6,"utc":true},{"year":2007,"month":12,"utc":true},{"year":2008,"month":6,"utc":true},{"year":2008,"month":12,"utc":true},{"year":2009,"month":6,"utc":true},{"year":2009,"month":12,"utc":true},{"year":2010,"month":5,"utc":true},{"year":2010,"month":8,"utc":true}]}}},
 "layer":[
  {"mark":{"type":"area","color":"#000000","opacity":1},"encoding":{"y":{"datum":100,"type":"quantitative","title":null,"scale":{"domain":[0,100],"range":[215,34]},"axis":{"offset":-78,"values":[0,10,20,30,40,50,60,70,80,90,100],"labelExpr":"datum.value + '%'"}}}},
  {"mark":{"type":"area","color":"#ffff00","opacity":1,"line":{"color":"#000000","strokeWidth":1}},"encoding":{"y":{"field":"s","type":"quantitative","title":null}}},
  {"mark":{"type":"area","color":"#ff99cc","opacity":1,"line":{"color":"#000000","strokeWidth":1}},"encoding":{"y":{"field":"p","type":"quantitative","title":null}}}
 ]},
{"title":{"text":["Gelecek 6 Ayda Satınalma","Gücü Ne Olacak?"],"dx":0},"width":414,"height":314,"data":{"name":"d2"},
 "encoding":{"x":{"field":"t","type":"temporal","title":null,"scale":{"type":"utc","range":[78,388]},"axis":{"offset":-99,"format":"%m/%y","values":[{"year":2007,"month":1,"utc":true},{"year":2007,"month":6,"utc":true},{"year":2007,"month":12,"utc":true},{"year":2008,"month":6,"utc":true},{"year":2008,"month":12,"utc":true},{"year":2009,"month":6,"utc":true},{"year":2009,"month":12,"utc":true},{"year":2010,"month":5,"utc":true},{"year":2010,"month":8,"utc":true}]}}},
 "layer":[
  {"mark":{"type":"area","color":"#000000","opacity":1},"encoding":{"y":{"datum":100,"type":"quantitative","title":null,"scale":{"domain":[0,100],"range":[215,34]},"axis":{"offset":-78,"values":[0,20,40,60,80,100],"labelExpr":"datum.value + '%'"}}}},
  {"mark":{"type":"area","color":"#ffff00","opacity":1,"line":{"color":"#000000","strokeWidth":1}},"encoding":{"y":{"field":"s","type":"quantitative","title":null}}},
  {"mark":{"type":"area","color":"#ff99cc","opacity":1,"line":{"color":"#000000","strokeWidth":1}},"encoding":{"y":{"field":"p","type":"quantitative","title":null}}}
 ]},
{"title":{"text":["Geçen 3 Aya Göre Türkiye","Ekonomisi Şimdi Nasıl?"],"dx":-4},"width":414,"height":314,"data":{"name":"d3"},
 "encoding":{"x":{"field":"t","type":"temporal","title":null,"scale":{"type":"utc","range":[78,389]},"axis":{"offset":-99,"format":"%m/%y","values":[{"year":2007,"month":1,"utc":true},{"year":2007,"month":6,"utc":true},{"year":2007,"month":12,"utc":true},{"year":2008,"month":6,"utc":true},{"year":2008,"month":12,"utc":true},{"year":2009,"month":6,"utc":true},{"year":2009,"month":12,"utc":true},{"year":2010,"month":5,"utc":true},{"year":2010,"month":8,"utc":true}]}}},
 "layer":[
  {"mark":{"type":"area","color":"#000000","opacity":1},"encoding":{"y":{"datum":100,"type":"quantitative","title":null,"scale":{"domain":[0,100],"range":[215,34]},"axis":{"offset":-78,"values":[0,20,40,60,80,100],"labelExpr":"datum.value + '%'"}}}},
  {"mark":{"type":"area","color":"#ffff00","opacity":1,"line":{"color":"#000000","strokeWidth":1}},"encoding":{"y":{"field":"s","type":"quantitative","title":null}}},
  {"mark":{"type":"area","color":"#ff99cc","opacity":1,"line":{"color":"#000000","strokeWidth":1}},"encoding":{"y":{"field":"p","type":"quantitative","title":null}}}
 ]},
{"title":{"text":["Gelecek 3 Ayda Türkiye","Ekonomisi Nasıl Olacak?"],"dx":-20},"width":414,"height":314,"data":{"name":"d4"},
 "encoding":{"x":{"field":"t","type":"temporal","title":null,"scale":{"type":"utc","range":[88,381]},"axis":{"offset":-94,"format":"%m/%y","values":[{"year":2007,"month":1,"utc":true},{"year":2007,"month":6,"utc":true},{"year":2007,"month":12,"utc":true},{"year":2008,"month":6,"utc":true},{"year":2008,"month":12,"utc":true},{"year":2009,"month":6,"utc":true},{"year":2009,"month":12,"utc":true},{"year":2010,"month":5,"utc":true},{"year":2010,"month":8,"utc":true}]}}},
 "layer":[
  {"mark":{"type":"area","color":"#000000","opacity":1},"encoding":{"y":{"datum":100,"type":"quantitative","title":null,"scale":{"domain":[0,100],"range":[220,37]},"axis":{"offset":-88,"values":[0,20,40,60,80,100],"labelExpr":"datum.value + '%'"}}}},
  {"mark":{"type":"area","color":"#ffff00","opacity":1,"line":{"color":"#000000","strokeWidth":1}},"encoding":{"y":{"field":"s","type":"quantitative","title":null}}},
  {"mark":{"type":"area","color":"#ff99cc","opacity":1,"line":{"color":"#000000","strokeWidth":1}},"encoding":{"y":{"field":"p","type":"quantitative","title":null}}}
 ]},
{"title":{"text":["Gelecek 6 Ayda İstihdam Ne","Olacak?"],"dx":-30},"width":414,"height":314,"data":{"name":"d5"},
 "encoding":{"x":{"field":"t","type":"temporal","title":null,"scale":{"type":"utc","range":[78,389]},"axis":{"offset":-99,"format":"%m/%y","values":[{"year":2007,"month":1,"utc":true},{"year":2007,"month":6,"utc":true},{"year":2007,"month":12,"utc":true},{"year":2008,"month":6,"utc":true},{"year":2008,"month":12,"utc":true},{"year":2009,"month":6,"utc":true},{"year":2009,"month":12,"utc":true},{"year":2010,"month":5,"utc":true},{"year":2010,"month":8,"utc":true}]}}},
 "layer":[
  {"mark":{"type":"area","color":"#000000","opacity":1},"encoding":{"y":{"datum":100,"type":"quantitative","title":null,"scale":{"domain":[0,100],"range":[215,34]},"axis":{"offset":-78,"values":[0,20,40,60,80,100],"labelExpr":"datum.value + '%'"}}}},
  {"mark":{"type":"area","color":"#ffff00","opacity":1,"line":{"color":"#000000","strokeWidth":1}},"encoding":{"y":{"field":"s","type":"quantitative","title":null}}},
  {"mark":{"type":"area","color":"#ff99cc","opacity":1,"line":{"color":"#000000","strokeWidth":1}},"encoding":{"y":{"field":"p","type":"quantitative","title":null}}}
 ]}
],"spacing":6},
{"vconcat":[
{"hconcat":[
{"title":{"text":["Geçen 3 Aya Göre Gelecek 3","Ayda Yarı Dayanıklı Tüketim","Harcamanız Artacak mı?"],"dx":4},"width":414,"height":314,"data":{"name":"d6"},
 "encoding":{"x":{"field":"t","type":"temporal","title":null,"scale":{"type":"utc","range":[78,384]},"axis":{"offset":-100,"format":"%m/%y","values":[{"year":2007,"month":1,"utc":true},{"year":2007,"month":6,"utc":true},{"year":2007,"month":12,"utc":true},{"year":2008,"month":6,"utc":true},{"year":2008,"month":12,"utc":true},{"year":2009,"month":6,"utc":true},{"year":2009,"month":12,"utc":true},{"year":2010,"month":5,"utc":true},{"year":2010,"month":8,"utc":true}]}}},
 "layer":[
  {"mark":{"type":"area","color":"#000000","opacity":1},"encoding":{"y":{"datum":100,"type":"quantitative","title":null,"scale":{"domain":[0,100],"range":[214,35]},"axis":{"offset":-78,"values":[0,20,40,60,80,100],"labelExpr":"datum.value + '%'"}}}},
  {"mark":{"type":"area","color":"#ffff00","opacity":1,"line":{"color":"#000000","strokeWidth":1}},"encoding":{"y":{"field":"s","type":"quantitative","title":null}}},
  {"mark":{"type":"area","color":"#ff99cc","opacity":1,"line":{"color":"#000000","strokeWidth":1}},"encoding":{"y":{"field":"p","type":"quantitative","title":null}}}
 ]},
{"title":{"text":["Bulunduğunuz Ay Yarı Dayanıklı","Tüketim Malı Almak İçin İyi mi?","(Mavi:\u00a0 fark etmez)"],"dx":-7},"width":414,"height":314,"data":{"name":"d7"},
 "encoding":{"x":{"field":"t","type":"temporal","title":null,"scale":{"type":"utc","range":[79,385]},"axis":{"offset":-100,"format":"%m/%y","values":[{"year":2007,"month":1,"utc":true},{"year":2007,"month":6,"utc":true},{"year":2007,"month":12,"utc":true},{"year":2008,"month":6,"utc":true},{"year":2008,"month":12,"utc":true},{"year":2009,"month":6,"utc":true},{"year":2009,"month":12,"utc":true},{"year":2010,"month":5,"utc":true},{"year":2010,"month":8,"utc":true}]}}},
 "layer":[
  {"mark":{"type":"area","color":"#ccffff","opacity":1},"encoding":{"y":{"datum":100,"type":"quantitative","title":null,"scale":{"domain":[0,100],"range":[214,35]},"axis":{"offset":-79,"values":[0,20,40,60,80,100],"labelExpr":"datum.value + '%'"}}}},
  {"mark":{"type":"area","color":"#000000","opacity":1,"line":{"color":"#000000","strokeWidth":1}},"encoding":{"y":{"field":"k","type":"quantitative","title":null}}},
  {"mark":{"type":"area","color":"#ffff00","opacity":1,"line":{"color":"#000000","strokeWidth":1}},"encoding":{"y":{"field":"s","type":"quantitative","title":null}}},
  {"mark":{"type":"area","color":"#ff99cc","opacity":1,"line":{"color":"#000000","strokeWidth":1}},"encoding":{"y":{"field":"p","type":"quantitative","title":null}}}
 ]},
{"title":{"text":["Gelecek 6 Ayda Yarı Dayanıklı","Mal Alacak mısınız?"],"dx":0},"width":414,"height":314,"data":{"name":"d8"},
 "encoding":{"x":{"field":"t","type":"temporal","title":null,"scale":{"type":"utc","range":[79,390]},"axis":{"offset":-100,"format":"%m/%y","values":[{"year":2007,"month":1,"utc":true},{"year":2007,"month":6,"utc":true},{"year":2007,"month":12,"utc":true},{"year":2008,"month":6,"utc":true},{"year":2008,"month":12,"utc":true},{"year":2009,"month":6,"utc":true},{"year":2009,"month":12,"utc":true},{"year":2010,"month":5,"utc":true},{"year":2010,"month":8,"utc":true}]}}},
 "layer":[
  {"mark":{"type":"area","color":"#000000","opacity":1},"encoding":{"y":{"datum":100,"type":"quantitative","title":null,"scale":{"domain":[0,100],"range":[214,35]},"axis":{"offset":-79,"values":[0,20,40,60,80,100],"labelExpr":"datum.value + '%'"}}}},
  {"mark":{"type":"area","color":"#ffff00","opacity":1,"line":{"color":"#000000","strokeWidth":1}},"encoding":{"y":{"field":"s","type":"quantitative","title":null}}},
  {"mark":{"type":"area","color":"#ff99cc","opacity":1,"line":{"color":"#000000","strokeWidth":1}},"encoding":{"y":{"field":"p","type":"quantitative","title":null}}}
 ]},
{"title":{"text":["Gelecek 6 Ayda Otomobil","Alacak mısınız?"],"dx":-23},"width":414,"height":314,"data":{"name":"d9"},
 "encoding":{"x":{"field":"t","type":"temporal","title":null,"scale":{"type":"utc","range":[78,389]},"axis":{"offset":-100,"format":"%m/%y","values":[{"year":2007,"month":1,"utc":true},{"year":2007,"month":6,"utc":true},{"year":2007,"month":12,"utc":true},{"year":2008,"month":6,"utc":true},{"year":2008,"month":12,"utc":true},{"year":2009,"month":6,"utc":true},{"year":2009,"month":12,"utc":true},{"year":2010,"month":5,"utc":true},{"year":2010,"month":8,"utc":true}]}}},
 "layer":[
  {"mark":{"type":"area","color":"#000000","opacity":1},"encoding":{"y":{"datum":100,"type":"quantitative","title":null,"scale":{"domain":[0,100],"range":[214,35]},"axis":{"offset":-78,"values":[0,20,40,60,80,100],"labelExpr":"datum.value + '%'"}}}},
  {"mark":{"type":"area","color":"#ffff00","opacity":1,"line":{"color":"#000000","strokeWidth":1}},"encoding":{"y":{"field":"s","type":"quantitative","title":null}}},
  {"mark":{"type":"area","color":"#ff99cc","opacity":1,"line":{"color":"#000000","strokeWidth":1}},"encoding":{"y":{"field":"p","type":"quantitative","title":null}}}
 ]},
{"title":{"text":["Gelecek 12 Ayda Konut","Alma/Yaptırma Olasılığı Var mı?"],"dx":-28},"width":414,"height":314,"data":{"name":"d10"},
 "encoding":{"x":{"field":"t","type":"temporal","title":null,"scale":{"type":"utc","range":[78,389]},"axis":{"offset":-100,"format":"%m/%y","values":[{"year":2007,"month":1,"utc":true},{"year":2007,"month":6,"utc":true},{"year":2007,"month":12,"utc":true},{"year":2008,"month":6,"utc":true},{"year":2008,"month":12,"utc":true},{"year":2009,"month":6,"utc":true},{"year":2009,"month":12,"utc":true},{"year":2010,"month":5,"utc":true},{"year":2010,"month":8,"utc":true}]}}},
 "layer":[
  {"mark":{"type":"area","color":"#000000","opacity":1},"encoding":{"y":{"datum":100,"type":"quantitative","title":null,"scale":{"domain":[0,100],"range":[214,35]},"axis":{"offset":-78,"values":[0,20,40,60,80,100],"labelExpr":"datum.value + '%'"}}}},
  {"mark":{"type":"area","color":"#ffff00","opacity":1,"line":{"color":"#000000","strokeWidth":1}},"encoding":{"y":{"field":"s","type":"quantitative","title":null}}},
  {"mark":{"type":"area","color":"#ff99cc","opacity":1,"line":{"color":"#000000","strokeWidth":1}},"encoding":{"y":{"field":"p","type":"quantitative","title":null}}}
 ]}
],"spacing":6},
{"hconcat":[
{"title":{"text":["Gelecek 6 Ayda Konut Tamir","Ettirme Olasılığı Var mı?"],"dx":-5},"width":414,"height":314,"data":{"name":"d11"},
 "encoding":{"x":{"field":"t","type":"temporal","title":null,"scale":{"type":"utc","range":[75,391]},"axis":{"offset":-94,"format":"%m/%y","values":[{"year":2007,"month":1,"utc":true},{"year":2007,"month":6,"utc":true},{"year":2007,"month":12,"utc":true},{"year":2008,"month":6,"utc":true},{"year":2008,"month":12,"utc":true},{"year":2009,"month":6,"utc":true},{"year":2009,"month":12,"utc":true},{"year":2010,"month":5,"utc":true},{"year":2010,"month":8,"utc":true}]}}},
 "layer":[
  {"mark":{"type":"area","color":"#000000","opacity":1},"encoding":{"y":{"datum":100,"type":"quantitative","title":null,"scale":{"domain":[0,100],"range":[220,31]},"axis":{"offset":-75,"values":[0,20,40,60,80,100],"labelExpr":"datum.value + '%'"}}}},
  {"mark":{"type":"area","color":"#ffff00","opacity":1,"line":{"color":"#000000","strokeWidth":1}},"encoding":{"y":{"field":"s","type":"quantitative","title":null}}},
  {"mark":{"type":"area","color":"#ff99cc","opacity":1,"line":{"color":"#000000","strokeWidth":1}},"encoding":{"y":{"field":"p","type":"quantitative","title":null}}}
 ]},
{"title":{"text":["Gelecek 3 Ayda Tüketici","Kredisi/Borç Alma Olasılığı Var mı?"],"dx":-7},"width":414,"height":314,"data":{"name":"d12"},
 "encoding":{"x":{"field":"t","type":"temporal","title":null,"scale":{"type":"utc","range":[73,389]},"axis":{"offset":-94,"format":"%m/%y","values":[{"year":2007,"month":1,"utc":true},{"year":2007,"month":6,"utc":true},{"year":2007,"month":12,"utc":true},{"year":2008,"month":6,"utc":true},{"year":2008,"month":12,"utc":true},{"year":2009,"month":6,"utc":true},{"year":2009,"month":12,"utc":true},{"year":2010,"month":5,"utc":true},{"year":2010,"month":8,"utc":true}]}}},
 "layer":[
  {"mark":{"type":"area","color":"#000000","opacity":1},"encoding":{"y":{"datum":100,"type":"quantitative","title":null,"scale":{"domain":[0,100],"range":[220,31]},"axis":{"offset":-73,"values":[0,20,40,60,80,100],"labelExpr":"datum.value + '%'"}}}},
  {"mark":{"type":"area","color":"#ffff00","opacity":1,"line":{"color":"#000000","strokeWidth":1}},"encoding":{"y":{"field":"s","type":"quantitative","title":null}}},
  {"mark":{"type":"area","color":"#ff99cc","opacity":1,"line":{"color":"#000000","strokeWidth":1}},"encoding":{"y":{"field":"p","type":"quantitative","title":null}}}
 ]},
{"title":{"text":["Şu An Tasarruf İçin İyi Bir","Zaman mı?"],"dx":-16},"width":414,"height":314,"data":{"name":"d13"},
 "encoding":{"x":{"field":"t","type":"temporal","title":null,"scale":{"type":"utc","range":[74,390]},"axis":{"offset":-94,"format":"%m/%y","values":[{"year":2007,"month":1,"utc":true},{"year":2007,"month":6,"utc":true},{"year":2007,"month":12,"utc":true},{"year":2008,"month":6,"utc":true},{"year":2008,"month":12,"utc":true},{"year":2009,"month":6,"utc":true},{"year":2009,"month":12,"utc":true},{"year":2010,"month":5,"utc":true},{"year":2010,"month":8,"utc":true}]}}},
 "layer":[
  {"mark":{"type":"area","color":"#000000","opacity":1},"encoding":{"y":{"datum":100,"type":"quantitative","title":null,"scale":{"domain":[0,100],"range":[220,31]},"axis":{"offset":-74,"values":[0,20,40,60,80,100],"labelExpr":"datum.value + '%'"}}}},
  {"mark":{"type":"area","color":"#ffff00","opacity":1,"line":{"color":"#000000","strokeWidth":1}},"encoding":{"y":{"field":"s","type":"quantitative","title":null}}},
  {"mark":{"type":"area","color":"#ff99cc","opacity":1,"line":{"color":"#000000","strokeWidth":1}},"encoding":{"y":{"field":"p","type":"quantitative","title":null}}}
 ]},
{"title":{"text":["Gelecek 6 Ayda Tasarruf Olasılığı","Var mı?"],"dx":-28},"width":414,"height":314,"data":{"name":"d14"},
 "encoding":{"x":{"field":"t","type":"temporal","title":null,"scale":{"type":"utc","range":[74,389]},"axis":{"offset":-94,"format":"%m/%y","values":[{"year":2007,"month":1,"utc":true},{"year":2007,"month":6,"utc":true},{"year":2007,"month":12,"utc":true},{"year":2008,"month":6,"utc":true},{"year":2008,"month":12,"utc":true},{"year":2009,"month":6,"utc":true},{"year":2009,"month":12,"utc":true},{"year":2010,"month":5,"utc":true},{"year":2010,"month":8,"utc":true}]}}},
 "layer":[
  {"mark":{"type":"area","color":"#000000","opacity":1},"encoding":{"y":{"datum":100,"type":"quantitative","title":null,"scale":{"domain":[0,100],"range":[220,31]},"axis":{"offset":-74,"values":[0,20,40,60,80,100],"labelExpr":"datum.value + '%'"}}}},
  {"mark":{"type":"area","color":"#ffff00","opacity":1,"line":{"color":"#000000","strokeWidth":1}},"encoding":{"y":{"field":"s","type":"quantitative","title":null}}},
  {"mark":{"type":"area","color":"#ff99cc","opacity":1,"line":{"color":"#000000","strokeWidth":1}},"encoding":{"y":{"field":"p","type":"quantitative","title":null}}}
 ]},
{"title":{"text":["Şimdiye Göre Gelecek 12 Ayda","Fiyatlar Artacak mı?"],"dx":-23},"width":414,"height":314,"data":{"name":"d15"},
 "encoding":{"x":{"field":"t","type":"temporal","title":null,"scale":{"type":"utc","range":[76,390]},"axis":{"offset":-94,"format":"%m/%y","values":[{"year":2007,"month":1,"utc":true},{"year":2007,"month":6,"utc":true},{"year":2007,"month":12,"utc":true},{"year":2008,"month":6,"utc":true},{"year":2008,"month":12,"utc":true},{"year":2009,"month":6,"utc":true},{"year":2009,"month":12,"utc":true},{"year":2010,"month":5,"utc":true},{"year":2010,"month":8,"utc":true}]}}},
 "layer":[
  {"mark":{"type":"area","color":"#000000","opacity":1},"encoding":{"y":{"datum":100,"type":"quantitative","title":null,"scale":{"domain":[0,100],"range":[220,31]},"axis":{"offset":-76,"values":[0,20,40,60,80,100],"labelExpr":"datum.value + '%'"}}}},
  {"mark":{"type":"area","color":"#ffff00","opacity":1,"line":{"color":"#000000","strokeWidth":1}},"encoding":{"y":{"field":"s","type":"quantitative","title":null}}},
  {"mark":{"type":"area","color":"#ff99cc","opacity":1,"line":{"color":"#000000","strokeWidth":1}},"encoding":{"y":{"field":"p","type":"quantitative","title":null}}}
 ]}
],"spacing":6}
],"spacing":23}
],
"spacing":34
}
